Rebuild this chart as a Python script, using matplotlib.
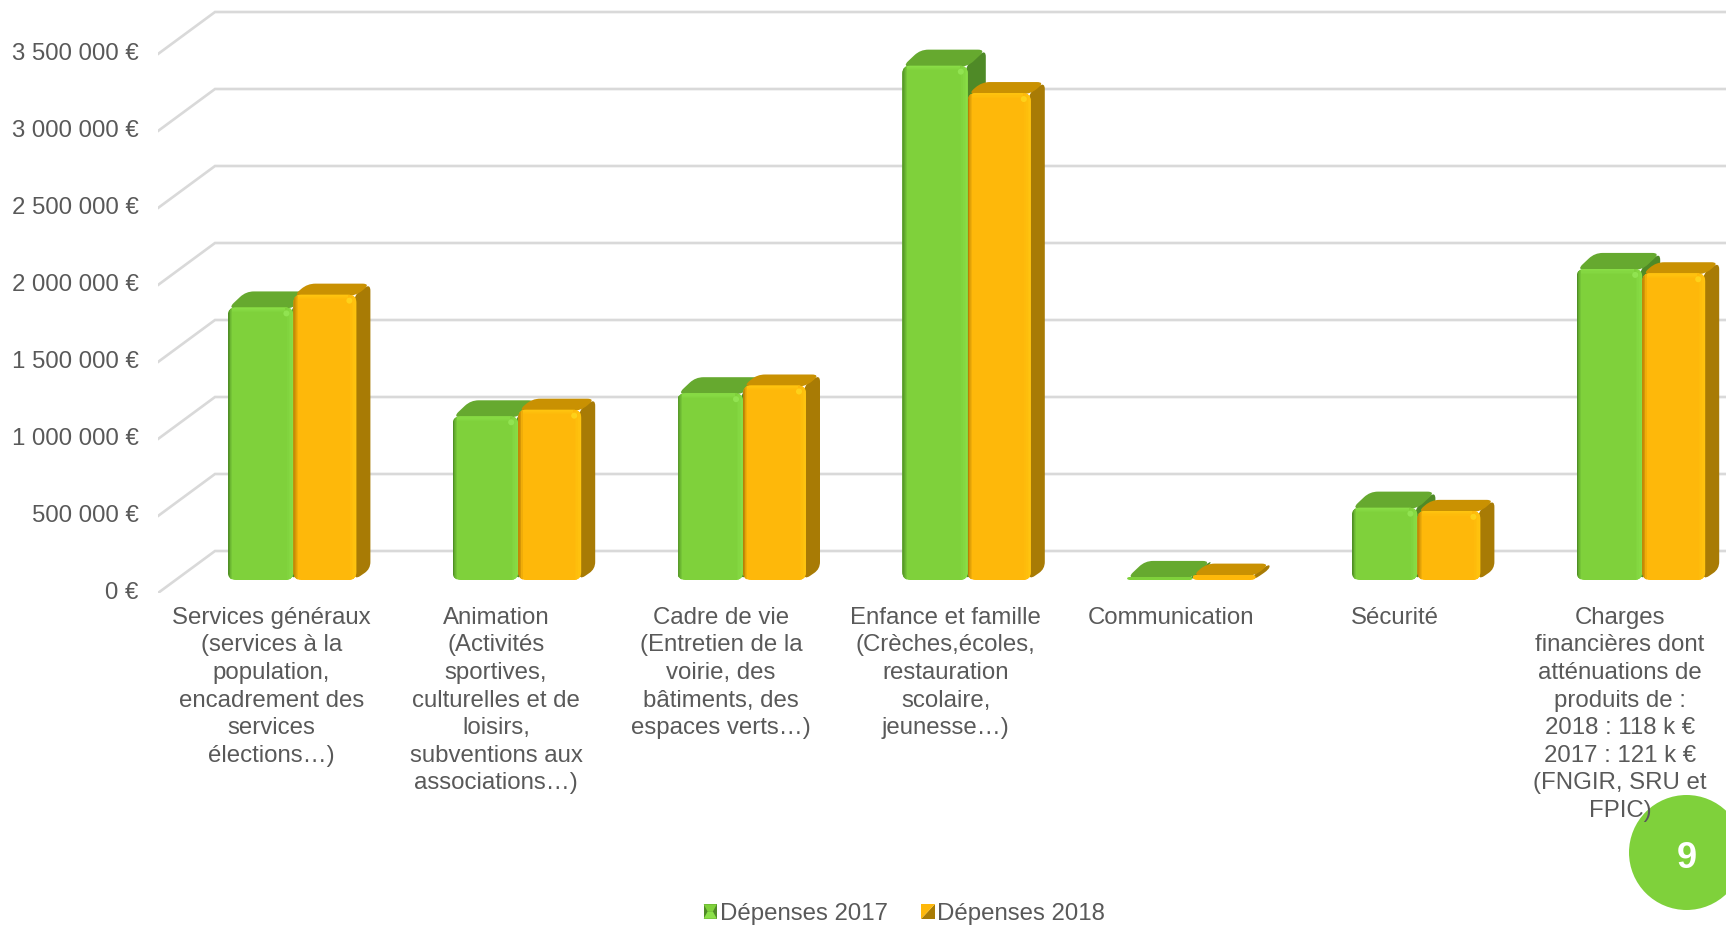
import matplotlib
matplotlib.use('Agg')
import matplotlib.pyplot as plt
from matplotlib.colors import to_rgb
from matplotlib.legend_handler import HandlerBase
from matplotlib.patches import Circle, PathPatch, Patch, Polygon, Rectangle
from matplotlib.path import Path
from matplotlib.transforms import IdentityTransform

plt.rcParams['font.family'] = ['Liberation Sans', 'DejaVu Sans']

# --- data ---
categories = [
    "Services généraux\n(services à la\npopulation,\nencadrement des\nservices\nélections…)",
    "Animation\n(Activités\nsportives,\nculturelles et de\nloisirs,\nsubventions aux\nassociations…)",
    "Cadre de vie\n(Entretien de la\nvoirie, des\nbâtiments, des\nespaces verts…)",
    "Enfance et famille\n(Crèches,écoles,\nrestauration\nscolaire,\njeunesse…)",
    "Communication",
    "Sécurité",
    "Charges\nfinancières dont\natténuations de\nproduits de :\n2018 : 118 k €\n2017 : 121 k €\n(FNGIR, SRU et\nFPIC)",
]
depenses_2017 = [1770000, 1063000, 1213000, 3340000, 20000, 470000, 2020000]
depenses_2018 = [1853000, 1106000, 1263000, 3162000, 35000, 449000, 1992000]
ytick_values = [0, 500000, 1000000, 1500000, 2000000, 2500000, 3000000, 3500000]
ytick_labels = ['0 €', '500 000 €', '1 000 000 €', '1 500 000 €', '2 000 000 €',
                '2 500 000 €', '3 000 000 €', '3 500 000 €']

W, H = 1726, 925
PX_PER_EUR = 77 / 500000
TXT = '#595959'
FS = 17.3

GREEN = dict(front='#7FD13B', top='#66A92F', side='#4F8A27', left='#4F8F25',
             right='#8BE049', hi='#96E857')
ORANGE = dict(front='#FEB80A', top='#C99102', side='#A87B05', left='#B98005',
              right='#FFC710', hi='#FFD81E')

fig = plt.figure(figsize=(W / 100, H / 100), dpi=100, facecolor='white')


def make_axes(base_px):
    # axes running from the top of the image down to base_px
    a = fig.add_axes([0, (H - base_px) / H, 1, base_px / H])
    a.set_ylim(0, base_px / PX_PER_EUR)
    a.patch.set_visible(False)
    for s in a.spines.values():
        s.set_visible(False)
    return a


# --- walls and value labels ---
ax_wall = make_axes(593)
ax_wall.set_position([158 / W, (H - 593) / H, (W - 158) / W, 593 / H])
ax_wall.set_xlim(0, W - 158)
ax_wall.set_xticks([])
rise = 42 / PX_PER_EUR
for v in ytick_values:
    ax_wall.plot([0, 57, W - 158], [v, v + rise, v + rise], color='#D9D9D9', lw=1.9,
                 solid_joinstyle='miter', zorder=1)
ax_wall.set_yticks(ytick_values)
ax_wall.set_yticklabels(ytick_labels, fontsize=FS, color=TXT)
ax_wall.tick_params(axis='y', length=0, pad=14)
for lab in ax_wall.get_yticklabels():
    lab.set_verticalalignment('center')

# --- bars ---
ax = make_axes(580)
SPACING = 224.8
ax.set_xlim(-271.3 / SPACING, (W - 271.3) / SPACING)
ax.set_yticks([])
ax.set_xticks(range(len(categories)))
ax.set_xticklabels(categories, fontsize=FS, color=TXT, linespacing=1.33)
ax.tick_params(axis='x', length=0, pad=19.3)


def rounded(pts, r):
    # closed path through pts with the corners cut by quadratic curves
    verts, codes = [], []
    n = len(pts)
    for i in range(n):
        px, py = pts[i - 1]
        cx, cy = pts[i]
        nx, ny = pts[(i + 1) % n]
        d1 = ((cx - px) ** 2 + (cy - py) ** 2) ** 0.5
        d2 = ((nx - cx) ** 2 + (ny - cy) ** 2) ** 0.5
        r1 = min(r, d1 / 2) if d1 else 0
        r2 = min(r, d2 / 2) if d2 else 0
        a = (cx + (px - cx) * r1 / max(d1, 1e-6), cy + (py - cy) * r1 / max(d1, 1e-6))
        b = (cx + (nx - cx) * r2 / max(d2, 1e-6), cy + (ny - cy) * r2 / max(d2, 1e-6))
        verts += [a, (cx, cy), b]
        codes += [Path.MOVETO if i == 0 else Path.LINETO, Path.CURVE3, Path.CURVE3]
    verts.append(verts[0])
    codes.append(Path.CLOSEPOLY)
    return Path(verts, codes)


def add_px(path, color, z):
    p = PathPatch(path, facecolor=color, edgecolor='none', transform=IdentityTransform(),
                  clip_on=False, zorder=z)
    ax.add_patch(p)
    return p


def mix(c1, c2, t):
    a, b = to_rgb(c1), to_rgb(c2)
    return tuple(a[k] + (b[k] - a[k]) * t for k in range(3))


def fade(x, y, w, h, c_from, c_to, clip, z, steps=5, vertical=False):
    # a soft bevel: thin rectangles going from one colour to the other
    for k in range(steps):
        c = mix(c_from, c_to, k / steps)
        if vertical:
            r = Rectangle((x, y + h * k / steps), w, h / steps + 0.3, facecolor=c, edgecolor='none',
                          transform=IdentityTransform(), zorder=z)
        else:
            r = Rectangle((x + w * k / steps, y), w / steps + 0.3, h, facecolor=c, edgecolor='none',
                          transform=IdentityTransform(), zorder=z)
        ax.add_patch(r)
        r.set_clip_path(clip)


def draw_series(values, offset, width, col, dx, dy, z):
    xs = [i + offset for i in range(len(values))]
    bars = ax.bar(xs, values, width=width, color=col['front'], zorder=z + 1)
    fig.canvas.draw()
    for rect in bars:
        e = rect.get_window_extent()
        x0, x1, y0, y1 = e.x0, e.x1, e.y0, e.y1
        h = y1 - y0
        rad = min(8, h)
        side = [(x1 - 2, y0), (x1 + dx, y0 + dy), (x1 + dx, y1 + dy), (x1 - 2, y1)]
        add_px(rounded(side, 7), col['side'], z)
        top = [(x0, y1 - 1), (x0 + dx, y1 + dy), (x1 + dx, y1 + dy), (x1, y1 - 1)]
        add_px(rounded(top, 8), col['top'], z)
        front = rounded([(x0, y0), (x0, y1), (x1, y1), (x1, y0)], rad)
        clip = PathPatch(front, transform=IdentityTransform(), facecolor='none', edgecolor='none')
        rect.set_clip_path(clip)
        if h > 20:
            # bevels along the edges of the front face
            fade(x0 + 4, y1 - 6, x1 - x0 - 10, 6, col['front'], col['right'], clip, z + 2, vertical=True)
            fade(x0, y0, 4, h, col['left'], col['front'], clip, z + 2)
            fade(x1 - 8, y0, 8, h, col['front'], col['right'], clip, z + 2)
            ax.add_patch(Circle((x1 - 7, y1 - 6), 3, facecolor=col['hi'], edgecolor='none',
                                alpha=0.8, transform=IdentityTransform(), zorder=z + 3))


# green starts 43.4 px left of the label centre, orange follows it
g_w, o_w = 65.5 / SPACING, 63 / SPACING
g_off = -43.4 / SPACING + g_w / 2
o_off = -43.4 / SPACING + g_w + o_w / 2
draw_series(depenses_2017, g_off, g_w, GREEN, 18, 16, 3)
draw_series(depenses_2018, o_off, o_w, ORANGE, 14, 11, 8)


# --- legend with the small bevelled swatches ---
class SwatchHandler(HandlerBase):
    def create_artists(self, legend, orig, xd, yd, w, h, fontsize, trans):
        col = orig.swatch
        x0, y0, x1, y1 = -xd, -yd, -xd + w, -yd + h
        if col is GREEN:
            pieces = [Polygon([(x0, y0), (x1, y0), (x1, y1), (x0, y1)], facecolor='#4F8A27'),
                      Polygon([(x0, y1), (x1, y1), (x1 - w * .3, y1 - h * .5), (x0 + w * .3, y1 - h * .5)],
                              facecolor=col['front']),
                      Polygon([(x0, y0), (x1, y0), (x1 - w * .3, y0 + h * .5), (x0 + w * .3, y0 + h * .5)],
                              facecolor=col['right'])]
        else:
            pieces = [Polygon([(x0, y0), (x1, y0), (x1, y1)], facecolor=col['side']),
                      Polygon([(x0, y0), (x0, y1), (x1, y1)], facecolor=col['front'])]
        for p in pieces:
            p.set_edgecolor('none')
            p.set_transform(trans)
        return pieces


h17, h18 = Patch(label='Dépenses 2017'), Patch(label='Dépenses 2018')
h17.swatch, h18.swatch = GREEN, ORANGE
fig.legend(handles=[h17, h18], handler_map={Patch: SwatchHandler()}, loc='center',
           bbox_to_anchor=(904.5 / W, (H - 914) / H), ncols=2, frameon=False, fontsize=FS,
           labelcolor=TXT, handlelength=0.55, handleheight=0.55, handletextpad=0.12,
           columnspacing=1.4, borderpad=0, borderaxespad=0)

# --- page number badge ---
fig.add_artist(Circle((1686.5, H - 852.5), 57.5, facecolor='#7FD13B', edgecolor='none',
                      transform=IdentityTransform(), zorder=0))
fig.text(1687 / W, (H - 858) / H, '9', color='white', fontsize=26, fontweight='bold',
         ha='center', va='center', zorder=5)
# the last tick label sits above the badge
ax.set_zorder(2)
ax_wall.set_zorder(1)

fig.savefig('out.png', dpi=100, facecolor='white')
